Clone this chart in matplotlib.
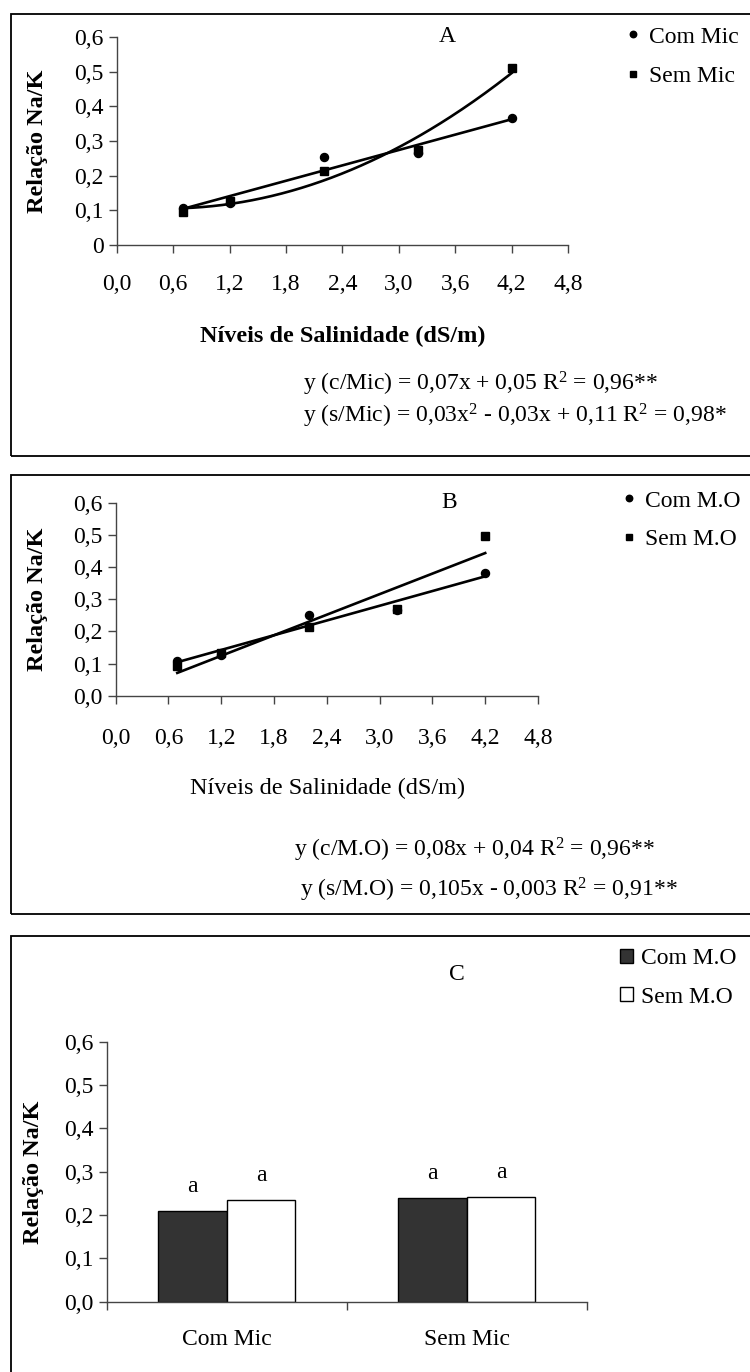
import numpy as np
import matplotlib
matplotlib.use("Agg")
import matplotlib.pyplot as plt
from matplotlib.patches import Rectangle, Patch
from matplotlib.ticker import FixedLocator, FuncFormatter

plt.rcParams['font.family'] = ['Liberation Serif', 'DejaVu Serif']
plt.rcParams['mathtext.fontset'] = 'custom'
plt.rcParams['mathtext.rm'] = 'Liberation Serif'
plt.rcParams['mathtext.it'] = 'Liberation Serif:italic'
plt.rcParams['mathtext.bf'] = 'Liberation Serif:bold'

# ---------------- data ----------------
x_sal = [0.7, 1.2, 2.2, 3.2, 4.2]
a_com_mic = [0.107, 0.12, 0.253, 0.264, 0.367]
a_sem_mic = [0.094, 0.127, 0.213, 0.274, 0.51]
b_com_mo = [0.109, 0.125, 0.251, 0.265, 0.381]
b_sem_mo = [0.093, 0.132, 0.214, 0.269, 0.498]

x_ticks = [0.0, 0.6, 1.2, 1.8, 2.4, 3.0, 3.6, 4.2, 4.8]
y_ticks = [0.0, 0.1, 0.2, 0.3, 0.4, 0.5, 0.6]

c_groups = ['Com Mic', 'Sem Mic']
c_com_mo = [0.209, 0.2395]
c_sem_mo = [0.2355, 0.2418]
c_letters_com = ['a', 'a']
c_letters_sem = ['a', 'a']

eqA = ['y (c/Mic) = 0,07x + 0,05 R$^2$ = 0,96**',
       'y (s/Mic) = 0,03x$^2$ - 0,03x + 0,11 R$^2$ = 0,98*']
eqB = ['y (c/M.O) = 0,08x + 0,04 R$^2$ = 0,96**',
       'y (s/M.O) = 0,105x - 0,003 R$^2$ = 0,91**']

# ---------------- layout helpers ----------------
W, H = 750, 1372
fig = plt.figure(figsize=(W / 100, H / 100), dpi=100)
FS = 17
AXC = '#444444'


def rect(x0, x1, ytop, ybot):
    return [x0 / W, 1 - ybot / H, (x1 - x0) / W, (ybot - ytop) / H]


def ftext(x, y, s, **kw):
    fig.text(x / W, 1 - y / H, s, fontsize=kw.pop('fontsize', FS), **kw)


def box(x0, ytop, x1, ybot):
    fig.add_artist(Rectangle((x0 / W, 1 - ybot / H), (x1 - x0) / W, (ybot - ytop) / H,
                             transform=fig.transFigure, fill=False,
                             edgecolor='black', linewidth=1.3))


def style_axes(ax):
    for s in ['top', 'right']:
        ax.spines[s].set_visible(False)
    for s in ['left', 'bottom']:
        ax.spines[s].set_color(AXC)
        ax.spines[s].set_linewidth(1.0)
    ax.tick_params(axis='y', direction='out', length=5.5, width=1.0, color=AXC,
                   labelsize=FS, pad=4)
    ax.patch.set_visible(False)


def comma(fmt):
    return FuncFormatter(lambda v, p: (fmt % v).replace('.', ','))


# ---------------- panel boxes ----------------
box(11, 13.5, 760, 456)
box(11, 475, 760, 914)
box(11, 936, 760, 1400)

# ---------------- Panel A ----------------
axA = fig.add_axes(rect(116.7, 568, 37, 245))
style_axes(axA)
axA.set_xlim(0, 4.8)
axA.set_ylim(0, 0.6)
axA.xaxis.set_major_locator(FixedLocator(x_ticks))
axA.yaxis.set_major_locator(FixedLocator(y_ticks))
axA.xaxis.set_major_formatter(comma('%.1f'))
axA.yaxis.set_major_formatter(FuncFormatter(
    lambda v, p: '0' if abs(v) < 1e-9 else ('%.1f' % v).replace('.', ',')))
axA.tick_params(axis='x', direction='out', length=6, width=1.0, color=AXC,
                labelsize=FS, pad=15)

xs = np.array(x_sal)
xf = np.linspace(min(x_sal), max(x_sal), 200)
pA1 = np.polyfit(xs, a_com_mic, 1)
pA2 = np.polyfit(xs, a_sem_mic, 2)
axA.plot(xf, np.polyval(pA1, xf), color='black', lw=1.9, zorder=2)
axA.plot(xf, np.polyval(pA2, xf), color='black', lw=1.9, zorder=2)
hA1, = axA.plot(x_sal, a_com_mic, 'o', color='black', ms=5.8, zorder=3, clip_on=False)
hA2, = axA.plot(x_sal, a_sem_mic, 's', color='black', ms=5.4, zorder=3, clip_on=False)
axA.legend([hA1, hA2], ['Com Mic', 'Sem Mic'], loc='upper left',
           bbox_to_anchor=(627 / W, 1 - 26 / H), bbox_transform=fig.transFigure,
           frameon=False, borderpad=0, borderaxespad=0, handlelength=0.5,
           handletextpad=0.45, labelspacing=0.75, fontsize=FS, markerscale=0.8)

ftext(447, 37, 'A', ha='center', va='center')
ftext(38, 141, 'Relação Na/K', ha='center', va='center', rotation=90,
      fontweight='bold', fontsize=17.5)
ftext(342.5, 336.7, 'Níveis de Salinidade (dS/m)', ha='center', va='center',
      fontweight='bold', fontsize=17.5)
ftext(303, 390, eqA[0], ha='left', va='baseline')
ftext(303, 423, eqA[1], ha='left', va='baseline')

# ---------------- Panel B ----------------
axB = fig.add_axes(rect(115.7, 538, 502.7, 695.7))
style_axes(axB)
axB.set_xlim(0, 4.8)
axB.set_ylim(0, 0.6)
axB.xaxis.set_major_locator(FixedLocator(x_ticks))
axB.yaxis.set_major_locator(FixedLocator(y_ticks))
axB.xaxis.set_major_formatter(comma('%.1f'))
axB.yaxis.set_major_formatter(comma('%.1f'))
axB.tick_params(axis='x', direction='out', length=6, width=1.0, color=AXC,
                labelsize=FS, pad=17)

pB1 = np.polyfit(xs, b_com_mo, 1)
pB2 = np.polyfit(xs, b_sem_mo, 1)
axB.plot(xf, np.polyval(pB1, xf), color='black', lw=1.9, zorder=2)
axB.plot(xf, np.polyval(pB2, xf), color='black', lw=1.9, zorder=2)
hB1, = axB.plot(x_sal, b_com_mo, 'o', color='black', ms=5.8, zorder=3, clip_on=False)
hB2, = axB.plot(x_sal, b_sem_mo, 's', color='black', ms=5.4, zorder=3, clip_on=False)
axB.legend([hB1, hB2], ['Com M.O', 'Sem M.O'], loc='upper left',
           bbox_to_anchor=(623 / W, 1 - 490 / H), bbox_transform=fig.transFigure,
           frameon=False, borderpad=0, borderaxespad=0, handlelength=0.5,
           handletextpad=0.45, labelspacing=0.72, fontsize=FS, markerscale=0.8)

ftext(449, 502, 'B', ha='center', va='center')
ftext(38, 599, 'Relação Na/K', ha='center', va='center', rotation=90,
      fontweight='bold', fontsize=17.5)
ftext(328, 788, 'Níveis de Salinidade (dS/m)', ha='center', va='center',
      fontsize=17.5)
ftext(294, 857, eqB[0], ha='left', va='baseline')
ftext(300, 896, eqB[1], ha='left', va='baseline')

# ---------------- Panel C ----------------
axC = fig.add_axes(rect(106.7, 586.7, 1041.7, 1301.7))
style_axes(axC)
axC.set_xlim(-0.5, 1.5)
axC.set_ylim(0, 0.6)
axC.yaxis.set_major_locator(FixedLocator(y_ticks))
axC.yaxis.set_major_formatter(comma('%.1f'))
xc = np.arange(len(c_groups))
bw = 0.285
axC.bar(xc - bw / 2, c_com_mo, bw, color='#333333', edgecolor='black', lw=1.0,
        label='Com M.O', zorder=2)
axC.bar(xc + bw / 2, c_sem_mo, bw, color='white', edgecolor='black', lw=1.0,
        label='Sem M.O', zorder=2)
for i in range(len(c_groups)):
    axC.annotate(c_letters_com[i], (xc[i] - bw / 2, c_com_mo[i]), xytext=(0, 17.5),
                 textcoords='offset points', ha='center', va='center', fontsize=FS)
    axC.annotate(c_letters_sem[i], (xc[i] + bw / 2, c_sem_mo[i]), xytext=(0, 17.5),
                 textcoords='offset points', ha='center', va='center', fontsize=FS)
axC.set_xticks(xc)
axC.set_xticklabels(c_groups)
axC.set_xticks([-0.5, 0.5, 1.5], minor=True)
axC.tick_params(axis='x', which='major', length=0, labelsize=FS, pad=20)
axC.tick_params(axis='x', which='minor', direction='out', length=6, width=1.0, color=AXC)
handlesC = [Patch(facecolor='#333333', edgecolor='black', lw=1.0),
            Patch(facecolor='white', edgecolor='black', lw=1.0)]
axC.legend(handlesC, ['Com M.O', 'Sem M.O'], loc='upper left',
           bbox_to_anchor=(620 / W, 1 - 948 / H), bbox_transform=fig.transFigure,
           frameon=False, borderpad=0, borderaxespad=0, handlelength=0.55,
           handleheight=0.55, handletextpad=0.35, labelspacing=0.75, fontsize=FS)

ftext(456.7, 974, 'C', ha='center', va='center')
ftext(34, 1172, 'Relação Na/K', ha='center', va='center', rotation=90,
      fontweight='bold', fontsize=17.5)

fig.savefig('out.png', dpi=100)
